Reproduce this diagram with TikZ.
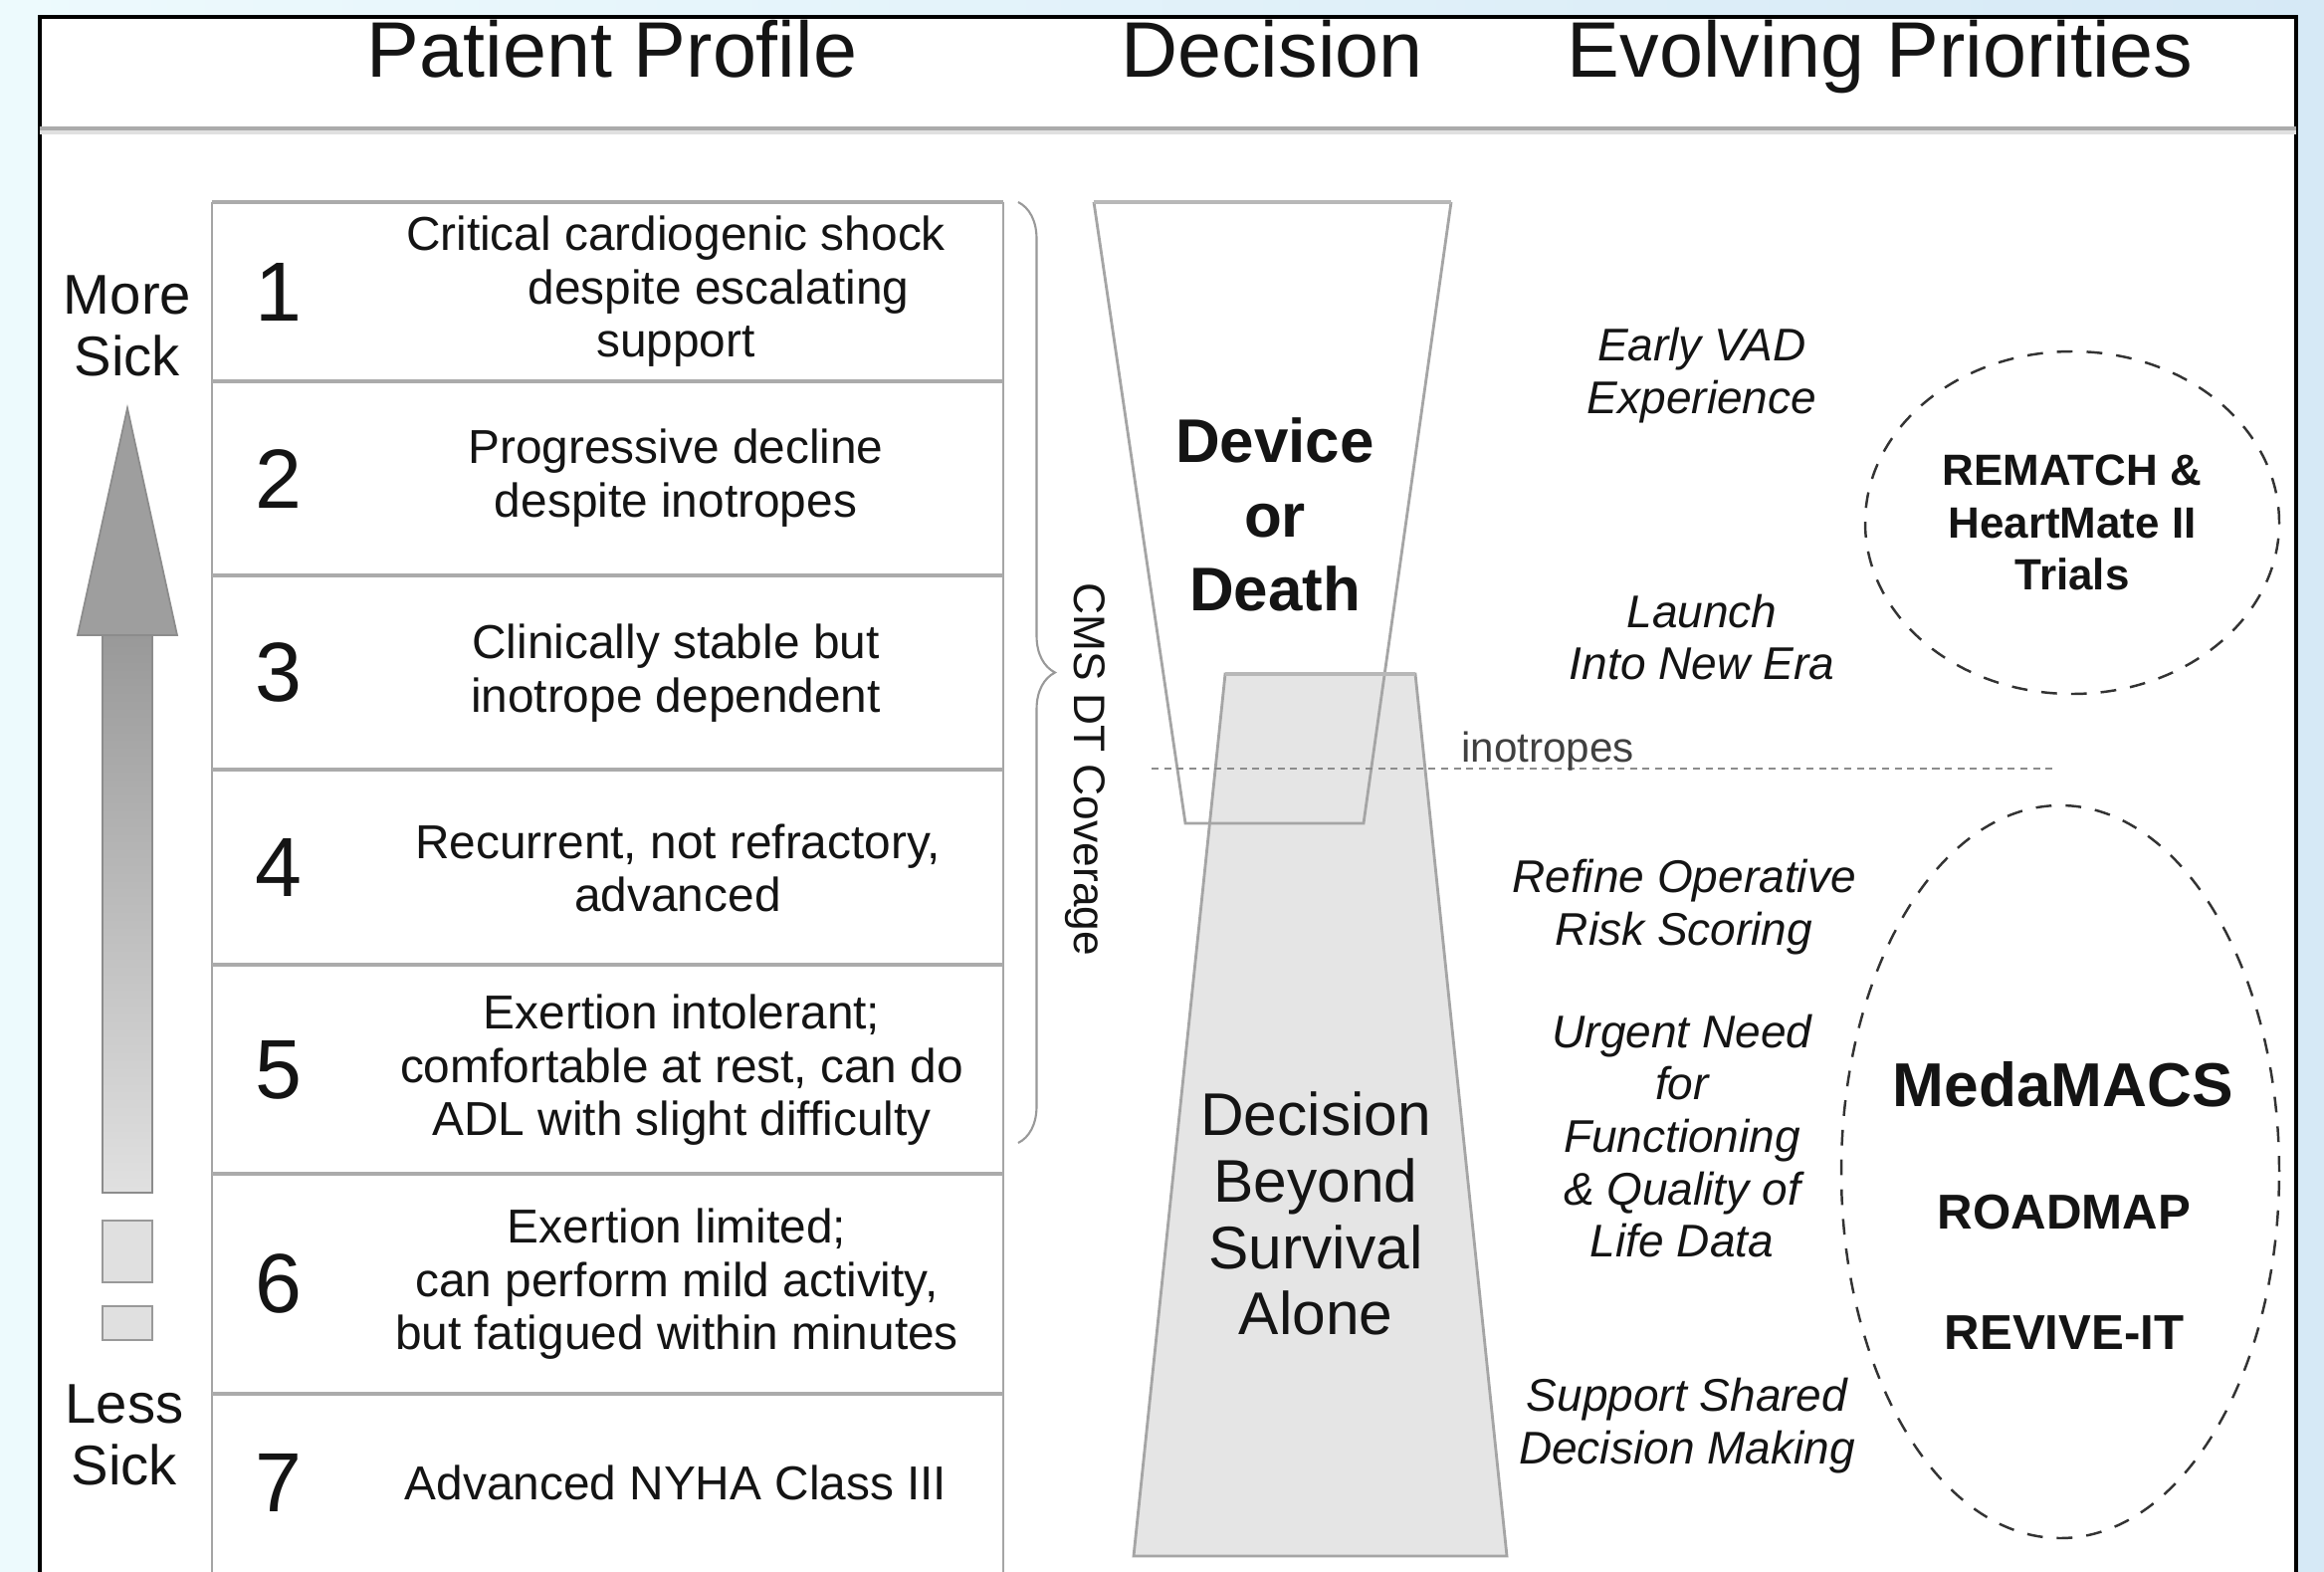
\documentclass[tikz,border=0pt]{standalone}
\usepackage{fontspec}
\setmainfont{Liberation Sans}
\usetikzlibrary{shapes.geometric,decorations.pathreplacing}

\definecolor{paleblue}{RGB}{237,250,253}
\definecolor{skyblue}{RGB}{214,233,246}
\definecolor{edgegray}{RGB}{165,165,165}
\definecolor{funnelgray}{RGB}{229,229,229}
\definecolor{ink}{RGB}{20,20,20}

\begin{document}
\begin{tikzpicture}[
  hdr/.style={anchor=base, text=ink, font=\fontsize{22.5}{26}\selectfont},
  side/.style={align=center, text=ink, font=\fontsize{16}{17.6}\selectfont},
  lvl/.style={text=ink, font=\fontsize{24}{28}\selectfont},
  desc/.style={align=center, text=ink, font=\fontsize{13.6}{15.2}\selectfont},
  rule/.style={draw=black!33, line width=1.1pt},
  edge/.style={draw=edgegray, line width=0.8pt},
  brace/.style={decorate, decoration={brace, amplitude=0.37cm}, draw=black!40, line width=0.6pt},
  cms/.style={text=ink, font=\fontsize{12.6}{14}\selectfont},
  device/.style={align=center, text=ink, font=\bfseries\fontsize{17.6}{21.1}\selectfont},
  beyond/.style={align=center, text=ink, font=\fontsize{17.2}{19}\selectfont},
  ino/.style={text=black!75, font=\fontsize{12}{14}\selectfont},
  inoline/.style={draw=black!45, line width=0.5pt, dash pattern=on 2pt off 1.6pt},
  prio/.style={align=center, text=ink, font=\itshape\fontsize{13.1}{15}\selectfont},
  ring/.style={ellipse, draw=black!80, line width=0.7pt, dash pattern=on 4.5pt off 4pt},
  trial/.style={align=center, text=ink, font=\bfseries\fontsize{14}{15}\selectfont},
  bigtrial/.style={text=ink, font=\bfseries\fontsize{17.7}{20}\selectfont}
]
% backdrop and outer frame
\useasboundingbox (0,0) rectangle (23.35,-15.79);
\shade[left color=paleblue, right color=skyblue] (0,0) rectangle (23.35,-15.79);
\clip (0,0) rectangle (23.35,-15.79);
\draw[line width=1.3pt, fill=white] (0.40,-0.17) rectangle (23.07,-16.30);
\draw[black!33, line width=1pt] (0.40,-1.29) -- (23.07,-1.29);
\draw[black!12, line width=1pt] (0.40,-1.33) -- (23.07,-1.33);

% column headings
\node[hdr] (profile) at (6.15,-0.77) {Patient Profile};
\node[hdr] (decision) at (12.78,-0.77) {Decision};
\node[hdr] (priorities) at (18.89,-0.77) {Evolving Priorities};

% sickness arrow
\shade[top color=black!40, bottom color=black!12, draw=black!45, line width=0.5pt]
  (1.03,-6.38) rectangle (1.53,-11.98);
\filldraw[fill=black!38, draw=black!45, line width=0.5pt]
  (1.28,-4.10) -- (1.78,-6.38) -- (0.78,-6.38) -- cycle;
\filldraw[fill=black!12, draw=black!40, line width=0.6pt] (1.03,-12.26) rectangle (1.53,-12.88);
\filldraw[fill=black!12, draw=black!40, line width=0.6pt] (1.03,-13.12) rectangle (1.53,-13.46);
\node[side] (more) at (1.28,-3.27) {More\\Sick};
\node[side] (less) at (1.25,-14.41) {Less\\Sick};

% profile table
\draw[edge] (2.13,-2.03) -- (2.13,-16.30);
\draw[edge] (10.08,-2.03) -- (10.08,-16.30);
\draw[rule] (2.13,-2.03) -- (10.08,-2.03);
\draw[rule] (2.13,-3.83) -- (10.08,-3.83);
\draw[rule] (2.13,-5.78) -- (10.08,-5.78);
\draw[rule] (2.13,-7.73) -- (10.08,-7.73);
\draw[rule] (2.13,-9.69) -- (10.08,-9.69);
\draw[rule] (2.13,-11.79) -- (10.08,-11.79);
\draw[rule] (2.13,-14.00) -- (10.08,-14.00);

\node[lvl] (n1) at (2.80,-2.93) {1};
\node[lvl] (n2) at (2.80,-4.81) {2};
\node[lvl] (n3) at (2.80,-6.75) {3};
\node[lvl] (n4) at (2.80,-8.71) {4};
\node[lvl] (n5) at (2.80,-10.75) {5};
\node[lvl] (n6) at (2.80,-12.89) {6};
\node[lvl] (n7) at (2.80,-14.89) {7};

\node[desc] (t1) at (6.79,-2.93) {Critical cardiogenic shock\\\hspace*{0.86cm}despite escalating\\support};
\node[desc] (t2) at (6.79,-4.80) {Progressive decline\\despite inotropes};
\node[desc] (t3) at (6.79,-6.76) {Clinically stable but\\inotrope dependent};
\node[desc] (t4) at (6.81,-8.72) {Recurrent, not refractory,\\advanced};
\node[desc] (t5) at (6.85,-10.75) {Exertion intolerant;\\comfortable at rest, can do\\ADL with slight difficulty};
\node[desc] (t6) at (6.80,-12.90) {Exertion limited;\\can perform mild activity,\\but fatigued within minutes};
\node[desc] (t7) at (6.79,-14.89) {Advanced NYHA Class III};

% coverage brace
\coordinate (braceTop) at (10.23,-2.03);
\coordinate (braceBot) at (10.23,-11.48);
\draw[brace] (braceTop) -- (braceBot);
\node[cms, rotate=-90] (cms) at (10.90,-7.73) {CMS DT Coverage};

% decision funnels
\coordinate (dA) at (10.99,-2.03);
\coordinate (dB) at (14.58,-2.03);
\coordinate (dC) at (13.70,-8.27);
\coordinate (dD) at (11.91,-8.27);
\coordinate (bA) at (12.31,-6.77);
\coordinate (bB) at (14.22,-6.77);
\coordinate (bC) at (15.14,-15.63);
\coordinate (bD) at (11.39,-15.63);
\fill[white] (dA) -- (dB) -- (dC) -- (dD) -- cycle;
\filldraw[fill=funnelgray, edge] (bA) -- (bB) -- (bC) -- (bD) -- cycle;
\draw[edge] (dB) -- (dC) -- (dD) -- (dA);
\draw[black!28, line width=1.3pt] (dA) -- (dB);
\draw[black!28, line width=1.3pt] (bA) -- (bB);

\node[device] (device) at (12.81,-5.17) {Device\\or\\Death};
\node[beyond] (beyond) at (13.22,-12.19) {Decision\\Beyond\\Survival\\Alone};

% inotrope threshold
\coordinate (inoL) at (11.57,-7.72);
\coordinate (inoR) at (20.62,-7.72);
\draw[inoline] (inoL) -- (inoR);
\node[ino, anchor=base] (inotropes) at (15.55,-7.65) {inotropes};

% priorities
\node[prio] (early) at (17.10,-3.77) {Early VAD\\Experience};
\node[prio] (launch) at (17.10,-6.40) {Launch\\Into New Era};
\node[prio] (refine) at (16.92,-9.11) {Refine Operative\\Risk Scoring};
\node[prio] (urgent) at (16.90,-11.41) {Urgent Need\\for\\Functioning\\\& Quality of\\Life Data};
\node[prio] (support) at (16.95,-14.32) {Support Shared\\Decision Making};

% trials
\node[ring, minimum width=4.16cm, minimum height=3.44cm, trial, font=\bfseries\fontsize{12.5}{15}\selectfont]
  (trials) at (20.82,-5.25) {REMATCH \&\\HeartMate II\\Trials};
\node[ring, minimum width=4.40cm, minimum height=7.36cm] (registry) at (20.70,-11.77) {};
\node[bigtrial] (medamacs) at (20.73,-10.89) {MedaMACS};
\node[trial] (roadmap) at (20.74,-12.18) {ROADMAP};
\node[trial] (revive) at (20.74,-13.39) {REVIVE-IT};
\end{tikzpicture}
\end{document}
